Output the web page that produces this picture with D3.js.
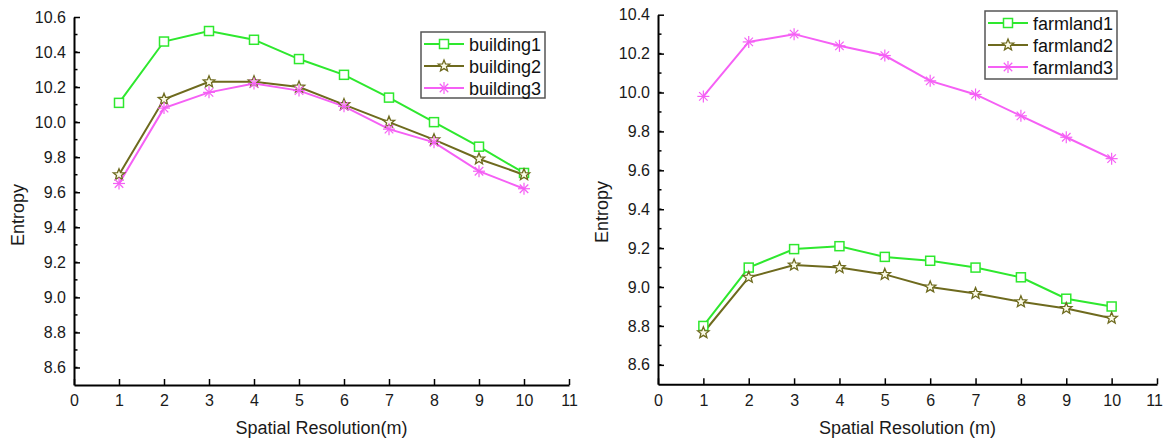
<!DOCTYPE html>
<html><head><meta charset="utf-8">
<script src="https://cdn.jsdelivr.net/npm/d3@7"></script>
<style>body{margin:0;background:#fff;}svg{display:block;font-family:"Liberation Sans",Arial,sans-serif;}</style>
</head><body>
<svg id="c" width="1164" height="441"></svg>
<script>
const xValues = [1,2,3,4,5,6,7,8,9,10];
const xTicks = [0,1,2,3,4,5,6,7,8,9,10,11];
const building1 = [10.11,10.46,10.52,10.47,10.36,10.27,10.14,10.00,9.86,9.71];
const building2 = [9.70,10.13,10.23,10.23,10.20,10.10,10.00,9.90,9.79,9.70];
const building3 = [9.65,10.08,10.17,10.22,10.18,10.09,9.96,9.885,9.72,9.62];
const farmland1 = [8.80,9.10,9.195,9.21,9.155,9.135,9.10,9.05,8.94,8.90];
const farmland2 = [8.765,9.05,9.113,9.10,9.065,9.00,8.967,8.924,8.89,8.84];
const farmland3 = [9.98,10.26,10.30,10.24,10.19,10.06,9.99,9.88,9.77,9.66];
const leftYTicks = [8.6,8.8,9.0,9.2,9.4,9.6,9.8,10.0,10.2,10.4,10.6];
const rightYTicks = [8.6,8.8,9.0,9.2,9.4,9.6,9.8,10.0,10.2,10.4];
const leftNames = ["building1","building2","building3"];
const rightNames = ["farmland1","farmland2","farmland3"];

const colors = ["#2ee82e","#6e6a1e","#f560f5"];
const markerTypes = ["square","star","asterisk"];

const svg = d3.select("#c");

function drawMarker(g, type, color){
  if(type==="square"){
    g.append("rect").attr("x",-4.5).attr("y",-4.5).attr("width",9).attr("height",9)
      .attr("fill","#fff").attr("stroke",color).attr("stroke-width",1.5);
  } else if(type==="star"){
    const pts=[];
    for(let i=0;i<10;i++){
      const r = i%2===0?6:2.6;
      const a = -Math.PI/2 + i*Math.PI/5;
      pts.push([r*Math.cos(a), r*Math.sin(a)]);
    }
    g.append("path").attr("d","M"+pts.map(p=>p.join(",")).join("L")+"Z")
      .attr("fill","#fbfbe8").attr("stroke",color).attr("stroke-width",1.3);
  } else {
    const r=6;
    for(let i=0;i<4;i++){
      const a=i*Math.PI/4;
      g.append("line").attr("x1",-r*Math.cos(a)).attr("y1",-r*Math.sin(a))
        .attr("x2",r*Math.cos(a)).attr("y2",r*Math.sin(a))
        .attr("stroke",color).attr("stroke-width",1.2);
    }
  }
}

function panel(opts){
  const x = d3.scaleLinear().domain([0,11]).range([opts.x0,opts.x1]);
  const y = d3.scaleLinear().domain(opts.yDomain).range([opts.yBottom,opts.yTop]);
  const g = svg.append("g");

  const minor = d3.range(Math.round(opts.yDomain[0]*10)+1, Math.round(opts.yDomain[1]*10)).map(v=>v/10);
  g.selectAll(".minor").data(minor).enter().append("line")
    .attr("x1",opts.x0).attr("x2",opts.x0+3.5)
    .attr("y1",d=>y(d)).attr("y2",d=>y(d))
    .attr("stroke","#000").attr("stroke-width",1.5);

  const yAxis = d3.axisLeft(y).tickValues(opts.yTicks).tickFormat(d3.format(".1f"))
    .tickSizeInner(-6).tickSizeOuter(0).tickPadding(8);
  const ya = g.append("g").attr("transform",`translate(${opts.x0},0)`).call(yAxis);
  ya.select(".domain").attr("stroke-width",2);
  ya.selectAll(".tick line").attr("stroke-width",1.5);
  ya.selectAll("text").attr("font-size",16).attr("font-family","Liberation Sans, Arial, sans-serif").attr("fill","#1a1a1a");

  const xAxis = d3.axisBottom(x).tickValues(xTicks).tickFormat(d3.format("d"))
    .tickSizeInner(-6).tickSizeOuter(0).tickPadding(10);
  const xa = g.append("g").attr("transform",`translate(0,${opts.yBottom})`).call(xAxis);
  xa.select(".domain").attr("stroke-width",2);
  xa.selectAll(".tick line").attr("stroke-width",1.5);
  xa.selectAll("text").attr("font-size",16).attr("font-family","Liberation Sans, Arial, sans-serif").attr("fill","#1a1a1a");
  if(opts.lastLabelShift){
    xa.selectAll(".tick").filter(d=>d===11).select("text").attr("dx",opts.lastLabelShift);
  }

  g.append("text").attr("x",(opts.x0+opts.x1)/2).attr("y",434)
    .attr("text-anchor","middle").attr("font-size",18).attr("fill","#1a1a1a").text(opts.xTitle);
  g.append("text").attr("transform",`translate(${opts.yTitleX},${opts.yTitleY}) rotate(-90)`)
    .attr("text-anchor","middle").attr("font-size",18).attr("fill","#1a1a1a").text("Entropy");

  const line = d3.line().x((d,i)=>x(xValues[i])).y(d=>y(d));
  opts.series.forEach((s,k)=>{
    g.append("path").datum(s).attr("d",line).attr("fill","none")
      .attr("stroke",colors[k]).attr("stroke-width",2);
  });
  opts.series.forEach((s,k)=>{
    s.forEach((v,i)=>{
      const mg = g.append("g").attr("transform",`translate(${x(xValues[i])},${y(v)})`);
      drawMarker(mg, markerTypes[k], colors[k]);
    });
  });

  const L = opts.legend;
  const lg = g.append("g");
  lg.append("rect").attr("x",L.x).attr("y",L.y).attr("width",L.w).attr("height",L.h)
    .attr("fill","#fff").attr("stroke","#555").attr("stroke-width",1.5);
  opts.names.forEach((n,k)=>{
    const cy = L.y + 12 + k*22;
    lg.append("line").attr("x1",L.x+3).attr("x2",L.x+43).attr("y1",cy).attr("y2",cy)
      .attr("stroke",colors[k]).attr("stroke-width",2);
    const mg = lg.append("g").attr("transform",`translate(${L.x+23},${cy})`);
    drawMarker(mg, markerTypes[k], colors[k]);
    lg.append("text").attr("x",L.x+48).attr("y",cy+6.5).attr("font-size",18).attr("fill","#111").text(n);
  });
}

panel({x0:74,x1:569,yTop:17,yBottom:385,yDomain:[8.5,10.6],yTicks:leftYTicks,
  series:[building1,building2,building3],names:leftNames,xTitle:"Spatial Resolution(m)",
  yTitleX:24,yTitleY:215,
  legend:{x:421,y:32,w:124,h:66}});
panel({x0:658,x1:1157,yTop:14.7,yBottom:384.3,yDomain:[8.5,10.4],yTicks:rightYTicks,
  series:[farmland1,farmland2,farmland3],names:rightNames,xTitle:"Spatial Resolution (m)",
  yTitleX:608,yTitleY:212,lastLabelShift:-3,
  legend:{x:985,y:11,w:132,h:68}});
</script>
</body></html>
